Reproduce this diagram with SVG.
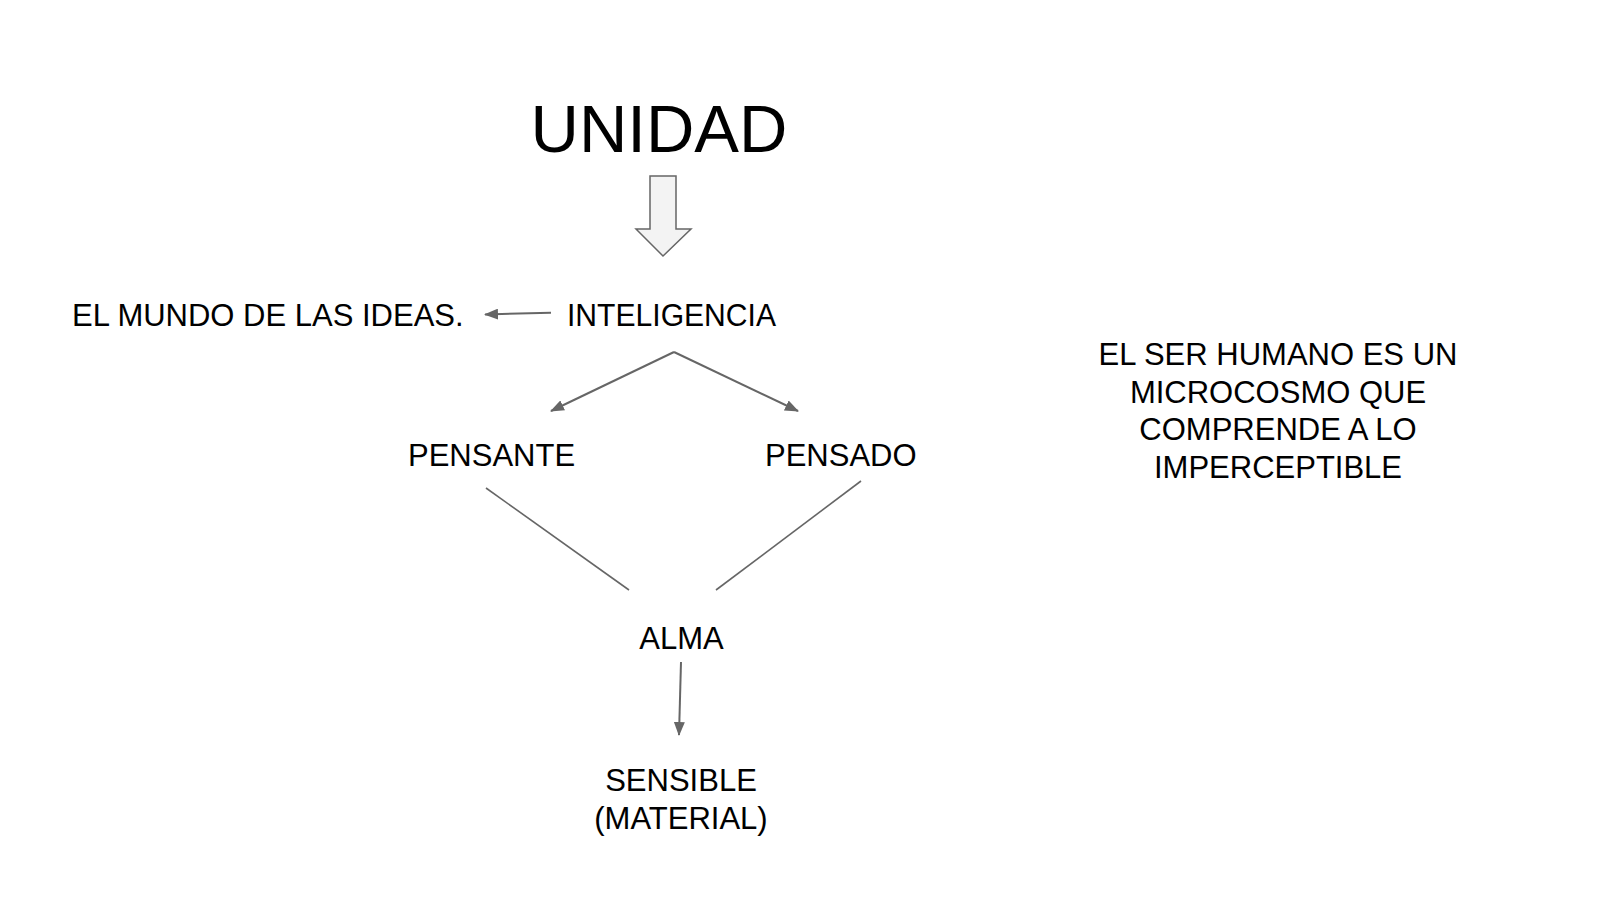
<svg xmlns="http://www.w3.org/2000/svg" width="1600" height="901" viewBox="0 0 1600 901">
<style>
text{font-family:"Liberation Sans",Arial,sans-serif;fill:#000;}
.t{font-size:31px;}
.c{stroke:#666;stroke-width:2;fill:none;}
.l{stroke:#666;stroke-width:1.6;fill:none;}
</style>
<defs>
<marker id="ah2" markerWidth="14" markerHeight="11" refX="13" refY="5.5" orient="auto" markerUnits="userSpaceOnUse" viewBox="0 0 14 11">
<path d="M0,0 L14,5.5 L0,11 Z" fill="#666"/>
</marker>
</defs>
<rect width="1600" height="901" fill="#fff"/>
<g id="unidad"><text x="659" y="152" font-size="67" text-anchor="middle">UNIDAD</text></g>
<g id="block-arrow"><path d="M650,176 L676,176 L676,229 L691,229 L663,256 L636,229 L650,229 Z" fill="#f3f3f3" stroke="#666" stroke-width="1.5" stroke-linejoin="miter"/></g>
<g id="mundo"><text class="t" x="72" y="326">EL MUNDO DE LAS IDEAS.</text></g>
<g id="inteligencia"><text class="t" x="567" y="326" textLength="209" lengthAdjust="spacingAndGlyphs">INTELIGENCIA</text></g>
<g id="pensante"><text class="t" x="408" y="466">PENSANTE</text></g>
<g id="pensado"><text class="t" x="765" y="466">PENSADO</text></g>
<g id="alma"><text class="t" x="681.5" y="649" text-anchor="middle">ALMA</text></g>
<g id="sensible"><text class="t" text-anchor="middle"><tspan x="681" y="791">SENSIBLE</tspan><tspan x="681" y="829">(MATERIAL)</tspan></text></g>
<g id="nota"><text class="t" text-anchor="middle"><tspan x="1278" y="365">EL SER HUMANO ES UN</tspan><tspan x="1278" y="402.5">MICROCOSMO QUE</tspan><tspan x="1278" y="440">COMPRENDE A LO</tspan><tspan x="1278" y="477.5">IMPERCEPTIBLE</tspan></text></g>
<g id="connectors">
<line class="c" x1="551" y1="312.7" x2="485" y2="314.5" marker-end="url(#ah2)"/>
<line class="c" x1="674" y1="352" x2="551" y2="411" marker-end="url(#ah2)"/>
<line class="c" x1="674" y1="352" x2="798" y2="411" marker-end="url(#ah2)"/>
<line class="l" x1="486" y1="488" x2="629" y2="590"/>
<line class="l" x1="861" y1="481" x2="716" y2="590"/>
<line class="c" x1="681" y1="662" x2="679" y2="735" marker-end="url(#ah2)"/>
</g>
</svg>
